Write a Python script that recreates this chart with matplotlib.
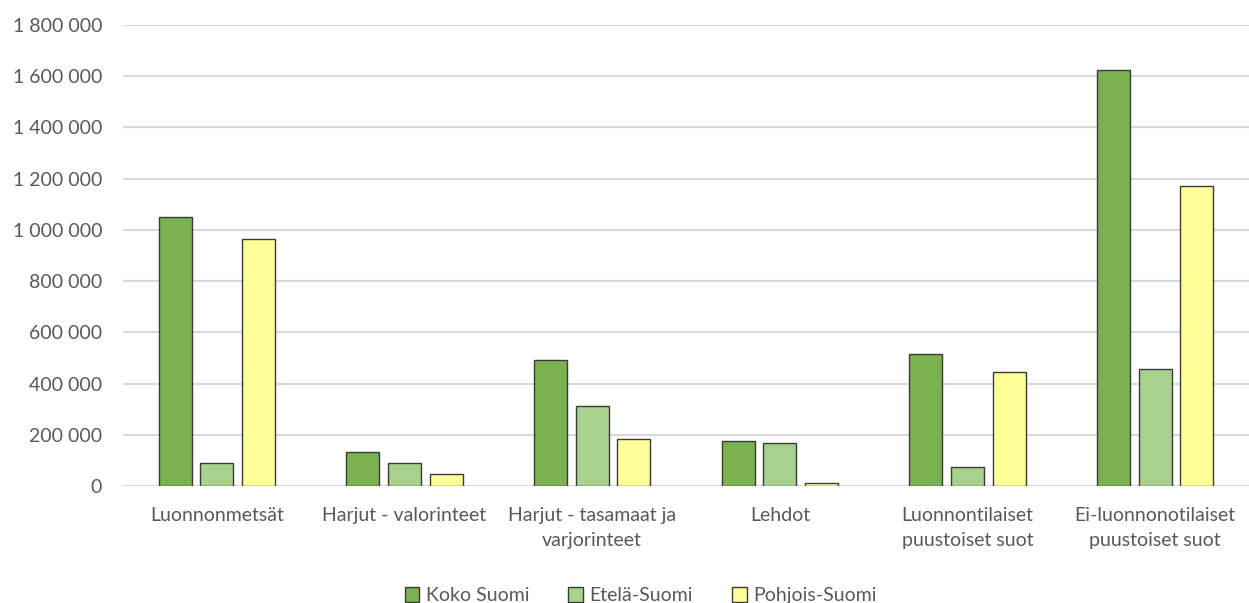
import numpy as np
import matplotlib.pyplot as plt
from matplotlib.ticker import FuncFormatter, MultipleLocator

categories = [
    "Luonnonmetsät",
    "Harjut - valorinteet",
    "Harjut - tasamaat ja\nvarjorinteet",
    "Lehdot",
    "Luonnontilaiset\npuustoiset suot",
    "Ei-luonnonotilaiset\npuustoiset suot",
]
series = ["Koko Suomi", "Etelä-Suomi", "Pohjois-Suomi"]
koko = [1049000, 131000, 494000, 174000, 516000, 1626000]
etela = [89000, 89000, 311000, 169000, 73000, 457000]
pohjois = [965000, 47000, 183000, 12000, 445000, 1170000]
colors = ["#7ab24f", "#a9d18e", "#ffff99"]

plt.rcParams["font.family"] = ["Lato", "DejaVu Sans"]
fig = plt.figure(figsize=(12.49, 6.03), dpi=100)
ax = fig.add_axes([0.0985, 0.194, 0.9015, 0.7645])

x = np.arange(len(categories))
w = 0.176
step = 0.222
for i, (vals, name, c) in enumerate(zip([koko, etela, pohjois], series, colors)):
    ax.bar(x + (i - 1) * step, vals, width=w, color=c, edgecolor="#3a3a3a",
           linewidth=1.0, label=name, zorder=3)

ax.set_xlim(-0.5, len(categories) - 0.5)
ax.set_ylim(0, 1800000)
ax.yaxis.set_major_locator(MultipleLocator(200000))
ax.yaxis.set_major_formatter(FuncFormatter(lambda v, p: f"{v:,.0f}".replace(",", " ")))
ax.grid(axis="y", color="#d9d9d9", linewidth=1.5, zorder=0)
for s in ax.spines.values():
    s.set_visible(False)
ax.set_xticks(x)
ax.set_xticklabels(categories, linespacing=1.55)
ax.tick_params(axis="both", length=0, labelsize=14, colors="#595959")
ax.tick_params(axis="x", pad=15)
ax.tick_params(axis="y", pad=15)

fig.legend(loc="center", bbox_to_anchor=(0.513, 0.012), ncol=3, frameon=False,
           fontsize=14, labelcolor="#595959", handlelength=0.75, handleheight=0.75,
           handletextpad=0.35, columnspacing=2.0)

plt.savefig("out.png", dpi=100)
